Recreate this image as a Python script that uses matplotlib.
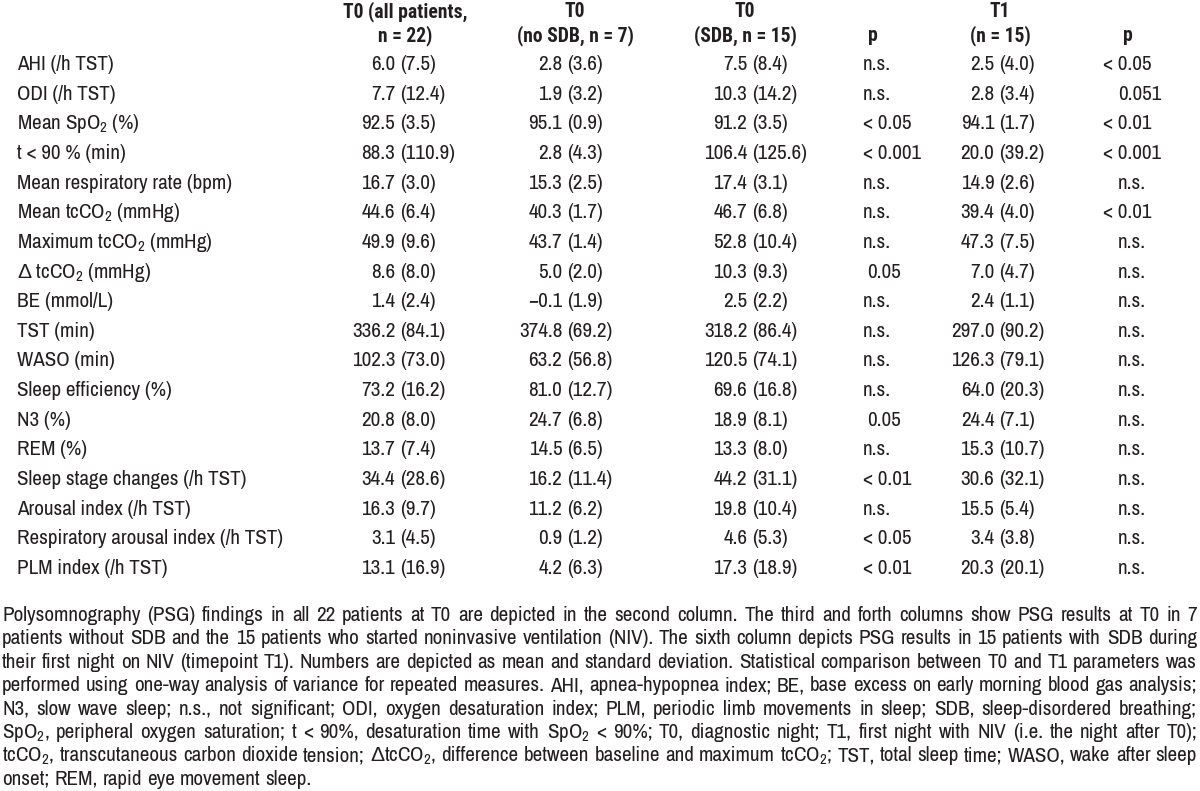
import matplotlib
matplotlib.use("Agg")
import matplotlib.pyplot as plt

plt.rcParams['font.family'] = ['Archivo Narrow', 'Liberation Sans Narrow', 'Liberation Sans', 'DejaVu Sans']
plt.rcParams['mathtext.default'] = 'regular'
head_family = ['Roboto Condensed', 'Fira Sans Condensed', 'Liberation Sans Narrow', 'Liberation Sans']
sym_family = ['Liberation Sans', 'DejaVu Sans']

# table content
row_labels = ['AHI (/h TST)', 'ODI (/h TST)', 'Mean SpO$_2$ (%)', 't < 90 % (min)',
              'Mean respiratory rate (bpm)', 'Mean tcCO$_2$ (mmHg)',
              'Maximum tcCO$_2$ (mmHg)', 'Δ tcCO$_2$ (mmHg)', 'BE (mmol/L)',
              'TST (min)', 'WASO (min)', 'Sleep efficiency (%)', 'N3 (%)', 'REM (%)',
              'Sleep stage changes (/h TST)', 'Arousal index (/h TST)',
              'Respiratory arousal index (/h TST)', 'PLM index (/h TST)']
headers = ['T0 (all patients,\nn = 22)', 'T0\n(no SDB, n = 7)', 'T0\n(SDB, n = 15)',
           'p', 'T1\n(n = 15)', 'p']

all_mean = [6.0, 7.7, 92.5, 88.3, 16.7, 44.6, 49.9, 8.6, 1.4, 336.2, 102.3, 73.2,
            20.8, 13.7, 34.4, 16.3, 3.1, 13.1]
all_sd = [7.5, 12.4, 3.5, 110.9, 3.0, 6.4, 9.6, 8.0, 2.4, 84.1, 73.0, 16.2,
          8.0, 7.4, 28.6, 9.7, 4.5, 16.9]
nosdb_mean = [2.8, 1.9, 95.1, 2.8, 15.3, 40.3, 43.7, 5.0, -0.1, 374.8, 63.2, 81.0,
              24.7, 14.5, 16.2, 11.2, 0.9, 4.2]
nosdb_sd = [3.6, 3.2, 0.9, 4.3, 2.5, 1.7, 1.4, 2.0, 1.9, 69.2, 56.8, 12.7,
            6.8, 6.5, 11.4, 6.2, 1.2, 6.3]
sdb_mean = [7.5, 10.3, 91.2, 106.4, 17.4, 46.7, 52.8, 10.3, 2.5, 318.2, 120.5, 69.6,
            18.9, 13.3, 44.2, 19.8, 4.6, 17.3]
sdb_sd = [8.4, 14.2, 3.5, 125.6, 3.1, 6.8, 10.4, 9.3, 2.2, 86.4, 74.1, 16.8,
          8.1, 8.0, 31.1, 10.4, 5.3, 18.9]
p_t0 = ['n.s.', 'n.s.', '< 0.05', '< 0.001', 'n.s.', 'n.s.', 'n.s.', '0.05', 'n.s.',
        'n.s.', 'n.s.', 'n.s.', '0.05', 'n.s.', '< 0.01', 'n.s.', '< 0.05', '< 0.01']
t1_mean = [2.5, 2.8, 94.1, 20.0, 14.9, 39.4, 47.3, 7.0, 2.4, 297.0, 126.3, 64.0,
           24.4, 15.3, 30.6, 15.5, 3.4, 20.3]
t1_sd = [4.0, 3.4, 1.7, 39.2, 2.6, 4.0, 7.5, 4.7, 1.1, 90.2, 79.1, 20.3,
         7.1, 10.7, 32.1, 5.4, 3.8, 20.1]
p_t1 = ['< 0.05', '0.051', '< 0.01', '< 0.001', 'n.s.', '< 0.01', 'n.s.', 'n.s.', 'n.s.',
        'n.s.', 'n.s.', 'n.s.', 'n.s.', 'n.s.', 'n.s.', 'n.s.', 'n.s.', 'n.s.']

footnote = [
    "Polysomnography (PSG) findings in all 22 patients at T0 are depicted in the second column. The third and forth columns show PSG results at T0 in 7",
    "patients without SDB and the 15 patients who started noninvasive ventilation (NIV). The sixth column depicts PSG results in 15 patients with SDB  during",
    "their first night on NIV (timepoint T1). Numbers are depicted as mean and standard deviation. Statistical comparison between T0 and T1 parameters was",
    "performed using one-way analysis of variance for repeated measures. AHI, apnea-hypopnea index; BE, base excess on early morning blood gas analysis;",
    "N3, slow wave sleep; n.s., not significant; ODI, oxygen desaturation index; PLM, periodic limb movements in sleep; SDB, sleep-disordered breathing;",
    "SpO$_2$, peripheral oxygen saturation; t < 90%, desaturation time with SpO$_2$ < 90%; T0, diagnostic night; T1, first night with NIV (i.e. the night after T0);",
    "tcCO$_2$, transcutaneous carbon dioxide tension; ΔtcCO$_2$, difference between baseline and maximum tcCO$_2$; TST, total sleep time; WASO, wake after sleep",
    "onset; REM, rapid eye movement sleep.",
]


def fmt(v):
    return f"{v:.1f}".replace('-', '\u2212')


fig = plt.figure(figsize=(12, 7.91), dpi=100)
ax = fig.add_axes([0, 0, 1, 1])
ax.set_xlim(0, 1200)
ax.set_ylim(791, 0)
ax.axis('off')
renderer = fig.canvas.get_renderer()
color = '#231f20'


def width_of(s, size, **kw):
    t = ax.text(0, 0, s, fontsize=size, **kw)
    w = t.get_window_extent(renderer).width
    t.remove()
    return w


def split_delta(s):
    # the narrow face has no Greek, so the delta goes in its own text
    if s.startswith('Δ'):
        return [('Δ', sym_family), (s[1:], None)]
    return [(s, None)]


def put(x, y, s, size, draw=True):
    x0 = x
    for part, fam in split_delta(s):
        kw = {'family': fam} if fam else {}
        if draw:
            ax.text(x, y, part, ha='left', va='baseline', fontsize=size, color=color, **kw)
        x += width_of(part, size, **kw)
    return x - x0


# pick font sizes so the text spans the same widths as in the original
fs = 10 * (266 / width_of('Respiratory arousal index (/h TST)', 10)
           + 231 / width_of('Sleep stage changes (/h TST)', 10)) / 2
fn_fs = 10 * 310 / width_of('onset; REM, rapid eye movement sleep.', 10)
hd_fs = 10 * 124 / width_of('T0 (all patients,', 10, family=head_family, fontweight='bold')

row0, row_step = 70, 29.65
head_x = [405, 575, 745, 873, 1000, 1128]

# headers
for hx, h in zip(head_x, headers):
    lines = h.split('\n')
    if len(lines) == 1:
        lines = [''] + lines
    for ly, txt in zip([17, 41], lines):
        ax.text(hx, ly, txt, ha='center', va='baseline', fontsize=hd_fs,
                fontweight='bold', family=head_family, color=color)

# body
paren_x = [400, 567, 752, 999]
gap = width_of('a a', fs) - width_of('aa', fs)
for i, lab in enumerate(row_labels):
    y = row0 + i * row_step
    put(17, y, lab, fs)
    for px, means, sds in zip(paren_x, [all_mean, nosdb_mean, sdb_mean, t1_mean],
                              [all_sd, nosdb_sd, sdb_sd, t1_sd]):
        ax.text(px - gap, y, fmt(means[i]), ha='right', va='baseline', fontsize=fs, color=color)
        ax.text(px, y, '(' + fmt(sds[i]) + ')', ha='left', va='baseline', fontsize=fs, color=color)
    p0 = p_t0[i]
    ax.text(867 if p0[0].isdigit() else 863, y, p0, ha='left', va='baseline',
            fontsize=fs, color=color)
    p1 = p_t1[i]
    ax.text(1103 if p1.startswith('<') else 1118, y, p1, ha='left', va='baseline',
            fontsize=fs, color=color)

# footnote, justified like the original
fn_x0, fn_x1 = 2, 1197
space_w = width_of('a a', fn_fs) - width_of('aa', fn_fs)
for k, line in enumerate(footnote):
    y = 621 + k * 23.4
    words = line.split()
    widths = [put(0, 0, w, fn_fs, draw=False) for w in words]
    if k < len(footnote) - 1:
        sp = (fn_x1 - fn_x0 - sum(widths)) / (len(words) - 1)
    else:
        sp = space_w
    x = fn_x0
    for w, ww in zip(words, widths):
        put(x, y, w, fn_fs)
        x += ww + sp

fig.savefig('out.png', dpi=100)
